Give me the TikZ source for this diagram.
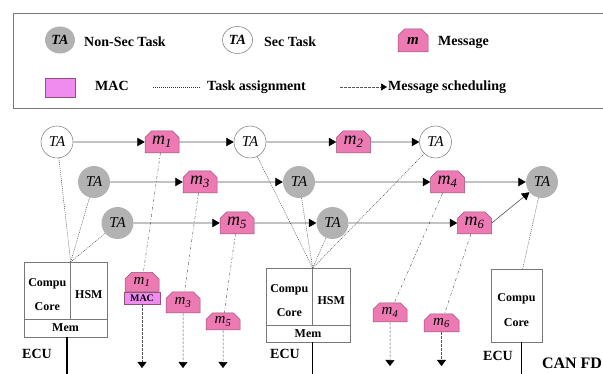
\documentclass[tikz,border=0pt]{standalone}
\usepackage{fontspec}
\setmainfont{Liberation Serif}
\usetikzlibrary{arrows.meta,shapes.misc,shapes.geometric}
\definecolor{msgpink}{RGB}{238,122,180}
\definecolor{msgedge}{RGB}{150,80,115}
\definecolor{macviolet}{RGB}{240,140,240}
\definecolor{taskgray}{RGB}{178,178,178}
\definecolor{linegray}{RGB}{85,85,85}
\definecolor{boxgray}{RGB}{120,120,120}
\newcommand{\fs}[1]{\fontsize{#1}{#1}\selectfont}
\newcommand{\msgm}[1]{\itshape m\textsubscript{#1}}
\tikzset{
  tip/.tip={Triangle[length=7.5pt,width=8.5pt,black]},
  dtip/.tip={Triangle[length=6pt,width=9pt,black]},
  sectask/.style={circle,draw=boxgray,line width=0.5pt,fill=white,minimum size=32pt,inner sep=0pt,font=\fs{15}\itshape},
  nstask/.style={circle,fill=taskgray,minimum size=32pt,inner sep=0pt,font=\fs{15}\itshape},
  msg/.style={chamfered rectangle,chamfered rectangle corners={north west,north east},chamfered rectangle xsep=3.5pt,chamfered rectangle angle=45,draw=msgedge,line width=0.5pt,fill=msgpink,minimum width=34pt,minimum height=22pt,inner sep=0pt,font=\fs{18}},
  lmsg/.style={msg,minimum height=19pt,font=\fs{15}},
  macbox/.style={rectangle,draw=msgedge,line width=0.5pt,fill=macviolet,minimum width=36pt,minimum height=12pt,inner sep=0pt,font=\fs{10}\bfseries},
  flow/.style={draw=linegray,line width=0.6pt,-{tip}},
  assign/.style={draw=black!80,line width=0.4pt,dash pattern=on 1pt off 1pt},
  sched/.style={draw=black!70,line width=0.4pt,dash pattern=on 3pt off 2pt on 0.7pt off 2pt},
  down/.style={draw=linegray,line width=0.5pt,dash pattern=on 2.5pt off 1.5pt,-{dtip}},
  ecubox/.style={rectangle,draw=boxgray,line width=0.6pt,fill=white,inner sep=0pt},
  lbl/.style={font=\fs{12}\bfseries,inner sep=0pt},
  leg/.style={font=\fs{14}\bfseries,inner sep=0pt,anchor=west},
  bus/.style={draw=black,line width=1.4pt}
}
\begin{document}
\begin{tikzpicture}[x=1pt,y=-1pt]
\useasboundingbox (0,0) rectangle (603,374);
% legend
\draw[draw=boxgray,line width=0.7pt] (605,13) -- (13,13) -- (13,108) -- (605,108);
\node[ellipse,fill=taskgray,minimum width=30pt,minimum height=27pt,inner sep=0pt,font=\fs{14}\bfseries\itshape] (lg1) at (60,40) {TA};
\node[leg] (lt1) at (84,42) {Non-Sec Task};
\node[ellipse,draw=boxgray,line width=0.5pt,minimum width=30pt,minimum height=27pt,inner sep=0pt,font=\fs{14}\bfseries\itshape] (lg2) at (237.5,40) {TA};
\node[leg] (lt2) at (264,42) {Sec Task};
\node[msg,minimum width=30pt,minimum height=23pt,font=\fs{15}\bfseries\itshape] (lg3) at (413,40.5) {m};
\node[leg] (lt3) at (438,42) {Message};
\node[rectangle,draw=msgedge,line width=0.5pt,fill=macviolet,minimum width=30pt,minimum height=19pt,inner sep=0pt] (lg4) at (60,87.5) {};
\node[leg] (lt4) at (95,86) {MAC};
\coordinate (la1) at (153,87);
\coordinate (la2) at (200,87);
\draw[assign] (la1) -- (la2);
\node[leg] (lt5) at (207,87) {Task assignment};
\coordinate (lb1) at (340,87);
\coordinate (lb2) at (387,87);
\draw[draw=linegray,line width=0.5pt,dash pattern=on 2.5pt off 1.5pt,-{Triangle[length=6pt,width=7pt,black]}] (lb1) -- (lb2);
\node[leg] (lt6) at (388,87) {Message scheduling};

% ECU boxes
\node[ecubox,minimum width=83pt,minimum height=75pt] (e1) at (65.5,299.5) {};
\draw[draw=boxgray,line width=0.6pt] (24,319) -- (107,319) (70.7,262) -- (70.7,319);
\coordinate (c1) at (70.7,262);
\node[lbl] (e1a) at (47.3,284) {Compu};
\node[lbl] (e1b) at (47.3,307) {Core};
\node[lbl] (e1c) at (88.9,295) {HSM};
\node[lbl] (e1d) at (65.5,328) {Mem};
\node[ecubox,minimum width=84pt,minimum height=74pt] (e2) at (308,305) {};
\draw[draw=boxgray,line width=0.6pt] (266,325) -- (350,325) (312.7,268) -- (312.7,325);
\coordinate (c2) at (312.7,268);
\node[lbl] (e2a) at (289.3,290) {Compu};
\node[lbl] (e2b) at (289.3,313) {Core};
\node[lbl] (e2c) at (331.3,301) {HSM};
\node[lbl] (e2d) at (308,333.5) {Mem};
\node[ecubox,minimum width=51pt,minimum height=73pt] (e3) at (516.5,305.5) {};
\coordinate (c3) at (522.7,269);
\node[lbl] (e3a) at (516.5,299) {Compu};
\node[lbl] (e3b) at (516.5,323) {Core};
% buses
\coordinate (b1) at (67,337);
\coordinate (b1e) at (67,376);
\coordinate (b2) at (312.7,342);
\coordinate (b2e) at (312.7,376);
\coordinate (b3) at (521.7,342);
\coordinate (b3e) at (521.7,376);
\draw[bus] (b1) -- (b1e);
\draw[bus] (b2) -- (b2e);
\draw[bus] (b3) -- (b3e);
\node[font=\fs{14}\bfseries,inner sep=0pt] (ecu1) at (37,354) {ECU};
\node[font=\fs{14}\bfseries,inner sep=0pt] (ecu2) at (285,354) {ECU};
\node[font=\fs{14}\bfseries,inner sep=0pt] (ecu3) at (498,356) {ECU};
\node[font=\fs{16}\bfseries,inner sep=0pt] (can) at (572,363) {CAN FD};

% tasks and messages
\node[sectask] (s1) at (57,142) {TA};
\node[msg] (m1) at (162,142) {\msgm{1}};
\node[sectask] (s2) at (250,142) {TA};
\node[msg] (m2) at (353.5,142) {\msgm{2}};
\node[sectask] (s3) at (435.5,142) {TA};
\node[nstask] (n1) at (94,182) {TA};
\node[msg] (m3) at (200,182) {\msgm{3}};
\node[nstask] (n2) at (299,182) {TA};
\node[msg] (m4) at (447.5,182) {\msgm{4}};
\node[nstask] (n3) at (542,182) {TA};
\node[nstask] (n4) at (117.5,223) {TA};
\node[msg] (m5) at (237,223) {\msgm{5}};
\node[nstask] (n5) at (332.5,223) {TA};
\node[msg] (m6) at (474.5,223) {\msgm{6}};

% assignments
\draw[assign] (s1) -- (c1);
\draw[assign] (n1) -- (c1);
\draw[assign] (n4) -- (c1);
\draw[assign] (s2) -- (c2);
\draw[assign] (n2) -- (c2);
\draw[assign] (n5) -- (c2);
\draw[assign] (s3) -- (c2);
\draw[assign] (n3) -- (c3);

% flows
\draw[flow] (s1) -- (m1);
\draw[flow] (m1) -- (s2);
\draw[flow] (s2) -- (m2);
\draw[flow] (m2) -- (s3);
\draw[flow] (n1) -- (m3);
\draw[flow] (m3) -- (n2);
\draw[flow] (n2) -- (m4);
\draw[flow] (m4) -- (n3);
\draw[flow] (n4) -- (m5);
\draw[flow] (m5) -- (n5);
\draw[flow] (n5) -- (m6);
\draw[flow] (m6.east) -- (n3);

% lower messages
\node[lmsg] (l1) at (142,282) {\msgm{1}};
\node[macbox,anchor=north] (mac) at (l1.south) {MAC};
\node[lmsg,minimum height=21pt] (l3) at (183,302.5) {\msgm{3}};
\node[lmsg,minimum height=17pt] (l5) at (223,321.5) {\msgm{5}};
\node[lmsg] (l4) at (390,312.5) {\msgm{4}};
\node[lmsg,minimum width=35pt,minimum height=18pt] (l6) at (441.5,323) {\msgm{6}};
\draw[sched] (m1) -- (l1);
\draw[sched] (m3) -- (l3);
\draw[sched] (m5) -- (l5);
\draw[sched] (m4) -- (l4);
\draw[sched] (m6) -- (l6);
\coordinate (d1) at (142,368);
\coordinate (d3) at (183,368);
\coordinate (d5) at (223,368);
\coordinate (d4) at (390,366);
\coordinate (d6) at (441.5,366);
\draw[down] (mac) -- (d1);
\draw[down] (l3) -- (d3);
\draw[down] (l5) -- (d5);
\draw[down] (l4) -- (d4);
\draw[down] (l6) -- (d6);
\end{tikzpicture}
\end{document}
